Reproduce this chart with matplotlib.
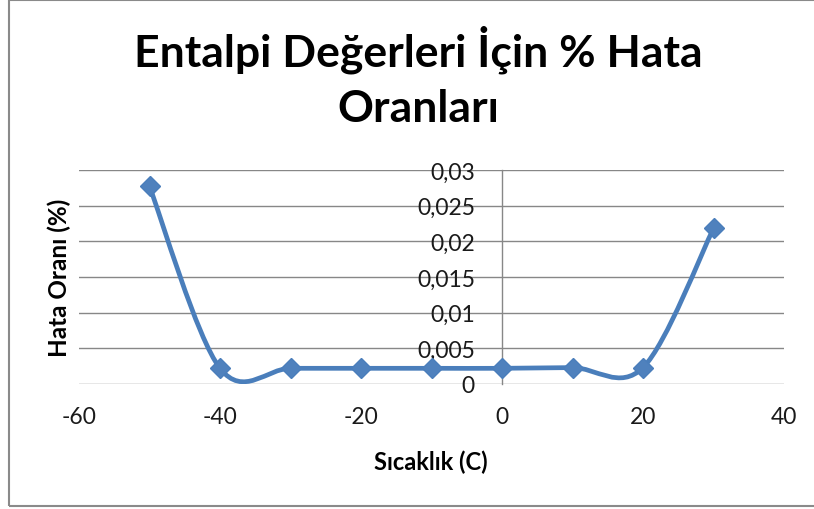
import numpy as np
import matplotlib
matplotlib.use("Agg")
import matplotlib.pyplot as plt
from matplotlib.path import Path
from matplotlib.patches import PathPatch, Rectangle

# ---- data ----
temperatures = [-50, -40, -30, -20, -10, 0, 10, 20, 30]
error_rates = [0.0277, 0.0022, 0.0022, 0.0022, 0.0022, 0.0022, 0.0023, 0.0023, 0.0218]
x_ticks = [-60, -40, -20, 0, 20, 40]
x_tick_labels = ["-60", "-40", "-20", "0", "20", "40"]
y_ticks = [0, 0.005, 0.01, 0.015, 0.02, 0.025, 0.03]
y_tick_labels = ["0", "0,005", "0,01", "0,015", "0,02", "0,025", "0,03"]
title = "Entalpi Değerleri İçin % Hata\nOranları"
x_label = "Sıcaklık (C)"
y_label = "Hata Oranı (%)"

plt.rcParams['font.family'] = ['Lato', 'DejaVu Sans']

W, H = 814, 510
fig = plt.figure(figsize=(W / 100, H / 100), dpi=100)
ax = fig.add_axes([79 / W, (H - 385) / H, 705 / W, 214 / H])

line_color = "#4A7EBB"
grid_color = "#878787"

# smooth (Catmull-Rom style, as in spreadsheet smoothed lines)
pts = np.column_stack([temperatures, error_rates]).astype(float)
n = len(pts)
verts = [pts[0]]
codes = [Path.MOVETO]
for i in range(n - 1):
    p0 = pts[i - 1] if i > 0 else pts[i]
    p1 = pts[i]
    p2 = pts[i + 1]
    p3 = pts[i + 2] if i + 2 < n else pts[i + 1]
    c1 = p1 + (p2 - p0) / 6.0
    c2 = p2 - (p3 - p1) / 6.0
    verts += [c1, c2, p2]
    codes += [Path.CURVE4] * 3
path = Path(np.array(verts), codes)
ax.add_patch(PathPatch(path, facecolor="none", edgecolor=line_color,
                       linewidth=3.4, capstyle="round", joinstyle="round", zorder=3))
ax.plot(temperatures, error_rates, linestyle="none", marker="D", markersize=10,
        markerfacecolor="#4F81BD", markeredgecolor="#4A7EBB", markeredgewidth=1, zorder=4)

ax.set_xlim(-60, 40)
ax.set_ylim(0, 0.03)

for s in ["top", "right", "bottom"]:
    ax.spines[s].set_visible(False)
ax.spines["left"].set_position(("data", 0))
ax.spines["left"].set_color(grid_color)
ax.spines["left"].set_linewidth(1)

ax.set_yticks(y_ticks)
ax.set_yticklabels(y_tick_labels)
ax.set_xticks(x_ticks)
ax.set_xticklabels(x_tick_labels)
ax.tick_params(axis="y", length=0, pad=19.5, labelsize=16.5, labelcolor="#1a1a1a")
ax.tick_params(axis="x", which="major", length=0, pad=16, labelsize=16.5, labelcolor="#1a1a1a")
ax.yaxis.grid(True, color=grid_color, linewidth=1)
ax.set_axisbelow(True)
ax.patch.set_alpha(0)

fig.text(418 / W, 1 - 77 / H, title, ha="center", va="center", fontsize=32,
         fontweight="bold", linespacing=1.45, color="#000000")
fig.text(431 / W, 1 - 462 / H, x_label, ha="center", va="center", fontsize=17,
         fontweight="bold", color="#000000")
fig.text(59 / W, 1 - 278 / H, y_label, ha="center", va="center", fontsize=17.5,
         fontweight="bold", rotation=90, color="#000000")

fig.add_artist(Rectangle((9 / W, 3 / H), 1.0, 506 / H, transform=fig.transFigure,
                         facecolor="none", edgecolor="#8a8a8a", linewidth=1.5, clip_on=False))

fig.savefig("out.png", dpi=100)
